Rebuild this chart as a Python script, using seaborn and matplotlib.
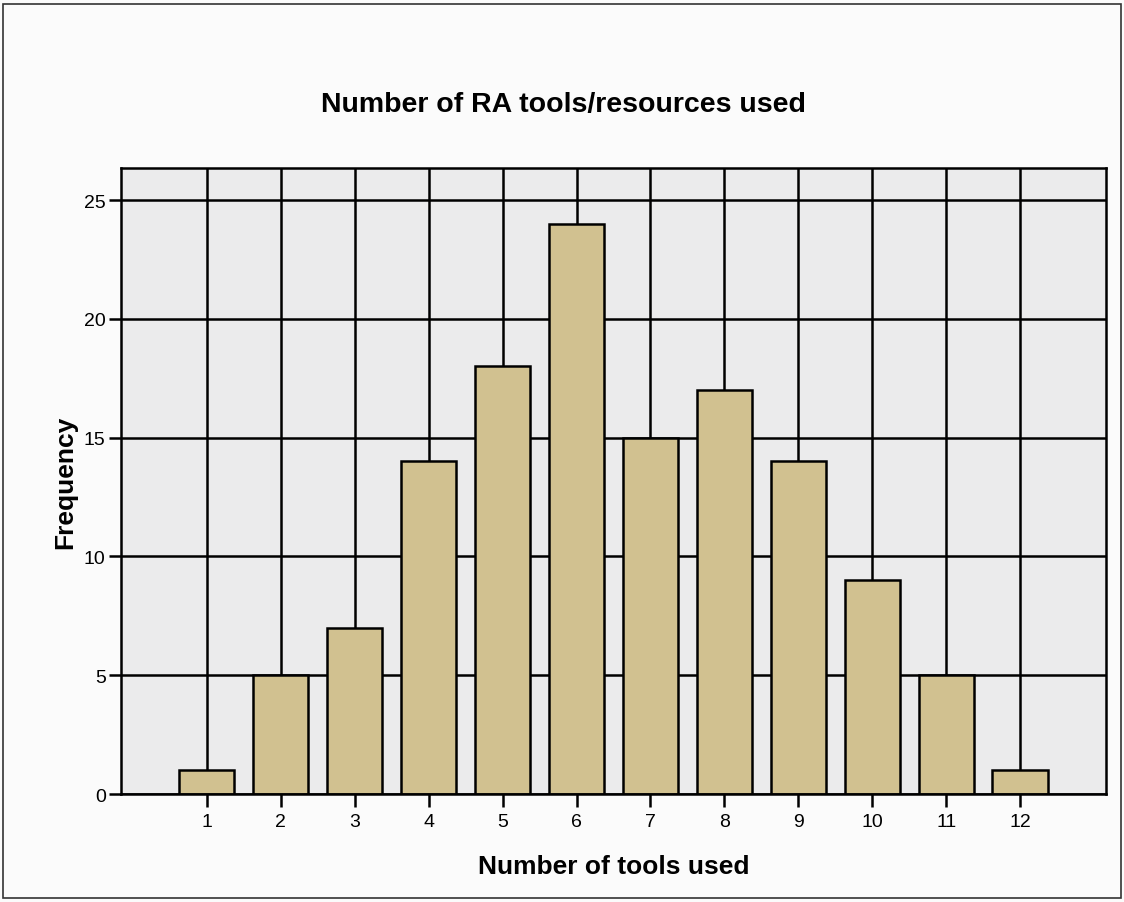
"""Number of RA tools/resources used - bar chart"""
import matplotlib
matplotlib.use("Agg")
import matplotlib.pyplot as plt
from matplotlib.patches import Rectangle
import pandas as pd
import seaborn as sns

tools_used = ["1", "2", "3", "4", "5", "6", "7", "8", "9", "10", "11", "12"]
frequency = [1, 5, 7, 14, 18, 24, 15, 17, 14, 9, 5, 1]
y_ticks = [0, 5, 10, 15, 20, 25]

df = pd.DataFrame({"tools": tools_used, "freq": frequency})

sns.set_style("ticks")
plt.rcParams["font.family"] = ["Liberation Sans", "DejaVu Sans"]
plt.rcParams["text.color"] = "black"
plt.rcParams["axes.labelcolor"] = "black"
plt.rcParams["xtick.color"] = "black"
plt.rcParams["ytick.color"] = "black"

fig = plt.figure(figsize=(11.24, 9.03), dpi=100, facecolor="#fbfbfb")
ax = fig.add_axes([0.1076, 0.1196, 0.8764, 0.6932])
ax.set_facecolor("#ebebec")

sns.barplot(
    data=df, x="tools", y="freq", ax=ax, color="#d1c190", saturation=1,
    width=0.75, edgecolor="black", linewidth=1.8, order=tools_used,
)

ax.set_axisbelow(True)
ax.grid(True, color="black", linewidth=1.8)
ax.set_xlim(-1.16, 12.16)
ax.set_ylim(0, 26.35)
ax.set_yticks(y_ticks)
for s in ax.spines.values():
    s.set_visible(True)
    s.set_color("black")
    s.set_linewidth(1.8)
ax.tick_params(axis="both", length=9, width=1.8, labelsize=14)
ax.tick_params(axis="x", pad=5)
ax.tick_params(axis="y", pad=2)

ax.set_xlabel("Number of tools used", fontsize=19, fontweight="bold", labelpad=17)
ax.set_ylabel("Frequency", fontsize=19, fontweight="bold", labelpad=5)
fig.text(0.501, 0.884, "Number of RA tools/resources used", ha="center",
         va="center", fontsize=20.5, fontweight="bold")

fig.patches.append(Rectangle((0.003, 0.004), 0.994, 0.99, transform=fig.transFigure,
                             fill=False, edgecolor="#333333", linewidth=1.2))

fig.savefig("out.png", dpi=100, facecolor=fig.get_facecolor())
